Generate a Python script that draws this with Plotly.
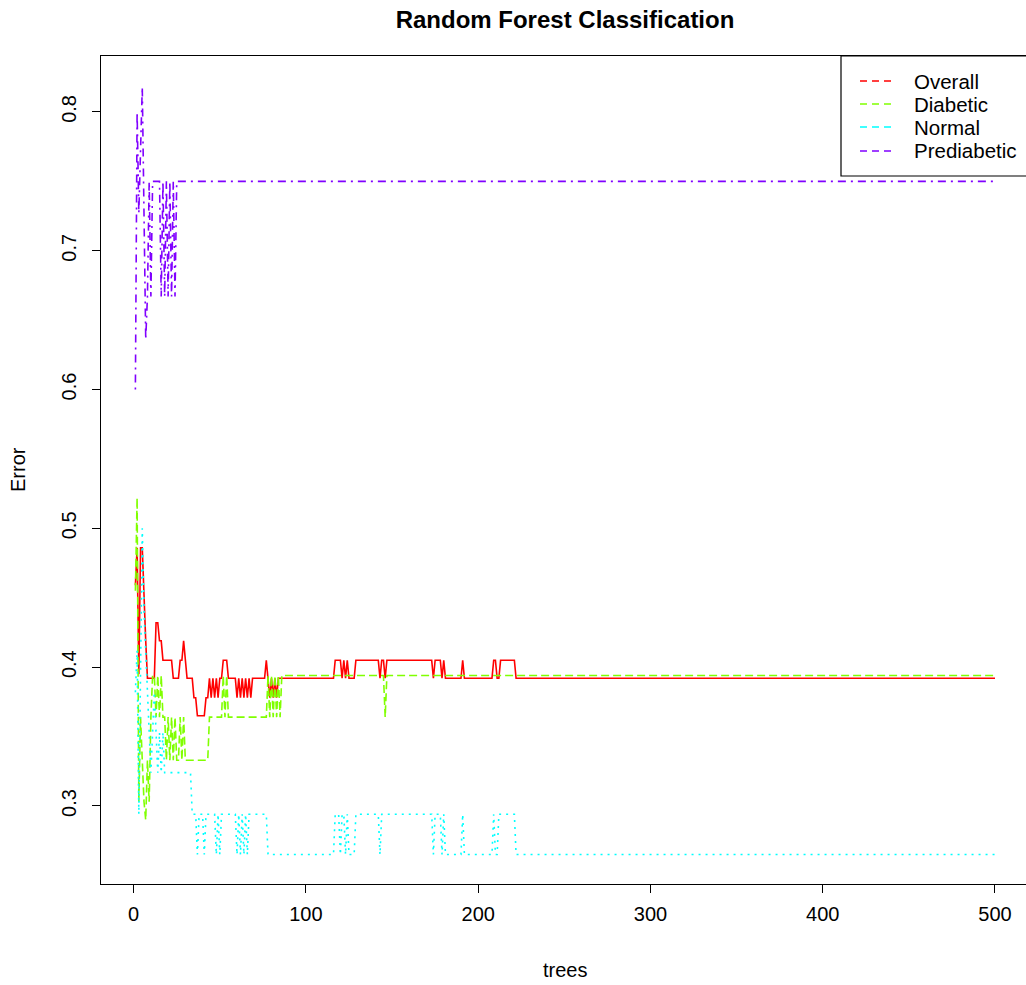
import plotly.graph_objects as go

# Change points (tree, error); error stays constant until next change
overall_trees = [1, 2, 3, 4, 6, 7, 8, 13, 15, 17, 23, 27, 29, 30, 31, 35, 37, 42, 44, 45, 46, 47, 48, 49, 50,
                 52, 55, 60, 61, 62, 63, 64, 65, 66, 67, 68, 69, 77, 78, 79, 80, 81, 82, 83, 84,
                 117, 121, 122, 123, 124, 125, 129, 143, 144, 146, 147, 174, 175, 179, 180, 181,
                 191, 192, 209, 211, 213, 222, 500]
overall_err = [0.459, 0.486, 0.395, 0.486, 0.446, 0.419, 0.392, 0.432, 0.419, 0.405, 0.392, 0.405, 0.419, 0.405,
               0.392, 0.378, 0.365, 0.378, 0.392, 0.378, 0.392, 0.378, 0.392, 0.378, 0.392,
               0.405, 0.392, 0.378, 0.392, 0.378, 0.392, 0.378, 0.392, 0.378, 0.392, 0.378, 0.392, 0.405, 0.392,
               0.378, 0.392, 0.378, 0.392, 0.378, 0.392,
               0.405, 0.392, 0.405, 0.392, 0.405, 0.392, 0.405, 0.392, 0.405, 0.392, 0.405, 0.392, 0.405,
               0.392, 0.405, 0.392, 0.405, 0.392, 0.405, 0.392, 0.405, 0.392, 0.392]

diabetic_trees = [1, 2, 3, 4, 5, 6, 7, 8, 9, 10, 11, 13, 14, 15, 16, 17, 19, 20, 21, 22, 23, 24, 25, 27, 28, 29,
                  30, 44, 52, 53, 54, 55, 78, 79, 80, 81, 82, 83, 84, 85, 86, 146, 147, 500]
diabetic_err = [0.455, 0.522, 0.303, 0.364, 0.333, 0.303, 0.290, 0.333, 0.303, 0.364, 0.394, 0.364, 0.394,
                0.364, 0.394, 0.364, 0.333, 0.364, 0.333, 0.364, 0.333, 0.364, 0.333, 0.364, 0.333, 0.364,
                0.333, 0.364, 0.394, 0.364, 0.394, 0.364, 0.394, 0.364, 0.394, 0.364, 0.394, 0.364, 0.394,
                0.364, 0.394, 0.364, 0.394, 0.394]

normal_trees = [1, 2, 3, 4, 5, 6, 7, 8, 9, 10, 11, 12, 13, 14, 15, 16, 17, 18, 34, 37, 38, 41, 42, 48, 49, 50,
                51, 60, 61, 62, 63, 64, 65, 66, 67, 78, 117, 120, 121, 123, 124, 125, 129, 143, 144, 174,
                175, 179, 180, 181, 191, 192, 209, 210, 212, 222, 500]
normal_err = [0.382, 0.412, 0.294, 0.412, 0.500, 0.441, 0.412, 0.382, 0.353, 0.324, 0.353, 0.382, 0.353,
              0.324, 0.353, 0.324, 0.353, 0.324, 0.294, 0.265, 0.294, 0.265, 0.294, 0.265, 0.294, 0.265,
              0.294, 0.265, 0.294, 0.265, 0.294, 0.265, 0.294, 0.265, 0.294, 0.265, 0.294, 0.265, 0.294,
              0.265, 0.294, 0.265, 0.294, 0.265, 0.294, 0.265, 0.294, 0.265, 0.294, 0.265, 0.294, 0.265,
              0.294, 0.265, 0.294, 0.265, 0.265]

prediabetic_trees = [1, 2, 3, 4, 5, 6, 7, 8, 9, 10, 11, 16, 17, 18, 19, 20, 21, 22, 23, 24, 25, 500]
prediabetic_err = [0.600, 0.800, 0.727, 0.778, 0.818, 0.727, 0.636, 0.667, 0.750, 0.667, 0.750, 0.667,
                   0.750, 0.667, 0.750, 0.667, 0.750, 0.667, 0.750, 0.667, 0.750, 0.750]

series_names = ["Overall", "Diabetic", "Normal", "Prediabetic"]
colors = ["#FF0000", "#80FF00", "#00FFFF", "#8000FF"]
dashes = ["solid", "8px,4px", "2px,5px", "2px,5px,8px,5px"]
x_ticks = [0, 100, 200, 300, 400, 500]
y_ticks = [0.3, 0.4, 0.5, 0.6, 0.7, 0.8]

data = [(overall_trees, overall_err), (diabetic_trees, diabetic_err),
        (normal_trees, normal_err), (prediabetic_trees, prediabetic_err)]


def per_tree_path(trees, errs):
    """R draws one point per tree joined by straight lines: the error holds
    its value until the tree before the next change point."""
    xs, ys = [], []
    for i, (t, e) in enumerate(zip(trees, errs)):
        xs.append(t)
        ys.append(e)
        if i + 1 < len(trees) and trees[i + 1] - 1 > t:
            xs.append(trees[i + 1] - 1)
            ys.append(e)
    return xs, ys


W, H = 1026, 985
L, R, T, B = 101, 0, 56, 101
PW, PH = W - L - R, H - T - B


def px(x):
    return (x - L) / PW


def py(y):
    return (H - B - y) / PH


FONT = "Liberation Sans, Arial, sans-serif"
fig = go.Figure()
for (ts, es), name, col, dsh in zip(data, series_names, colors, dashes):
    xs, ys = per_tree_path(ts, es)
    fig.add_trace(go.Scatter(x=xs, y=ys, mode="lines", line=dict(color=col, width=1.6, dash=dsh),
                             name=name, showlegend=False))

fig.update_layout(
    width=W, height=H,
    margin=dict(l=L, r=R, t=T, b=B),
    paper_bgcolor="white", plot_bgcolor="white",
    font=dict(family=FONT, size=20, color="black"),
    title=dict(text="<b>Random Forest Classification</b>", x=565 / W, xref="container", xanchor="center",
               y=1 - 20 / H, yref="container", yanchor="middle", font=dict(size=24, family=FONT)),
    showlegend=False,
)
fig.update_xaxes(range=[-18.96, 518.0], tickvals=x_ticks, ticks="outside", ticklen=8, tickcolor="black",
                 showline=True, linecolor="black", linewidth=1, mirror=True, showgrid=False, zeroline=False,
                 tickfont=dict(size=20), ticklabelstandoff=4)
fig.update_yaxes(range=[0.2438, 0.8403], tickvals=y_ticks, ticks="outside", ticklen=8, tickcolor="black",
                 showline=True, linecolor="black", linewidth=1, showgrid=False, zeroline=False,
                 tickangle=-90, tickfont=dict(size=20), ticklabelstandoff=8)
fig.add_annotation(text="trees", xref="paper", yref="paper", x=px(565), y=py(970),
                   showarrow=False, font=dict(size=20), yanchor="middle", xanchor="center")
fig.add_annotation(text="Error", xref="paper", yref="paper", x=px(18), y=0.5, textangle=-90,
                   showarrow=False, font=dict(size=20), xanchor="center", yanchor="middle")

# legend box (top right, as drawn by R's legend())
fig.add_shape(type="rect", xref="paper", yref="paper", x0=px(841), x1=px(1040), y0=py(176), y1=py(56),
              line=dict(color="black", width=1.2), fillcolor="white", layer="above")
legend_rows = [81, 104, 127, 151]
for name, col, yr in zip(series_names, colors, legend_rows):
    fig.add_shape(type="line", xref="paper", yref="paper", x0=px(860), x1=px(896), y0=py(yr), y1=py(yr),
                  line=dict(color=col, width=1.6, dash="7px,5px"), layer="above")
    fig.add_annotation(text=name, xref="paper", yref="paper", x=px(912), y=py(yr), showarrow=False,
                       xanchor="left", yanchor="middle", font=dict(size=20.5))

fig.write_html("out.html", config={"displayModeBar": False},
               post_script="document.body.style.margin='0px';")
